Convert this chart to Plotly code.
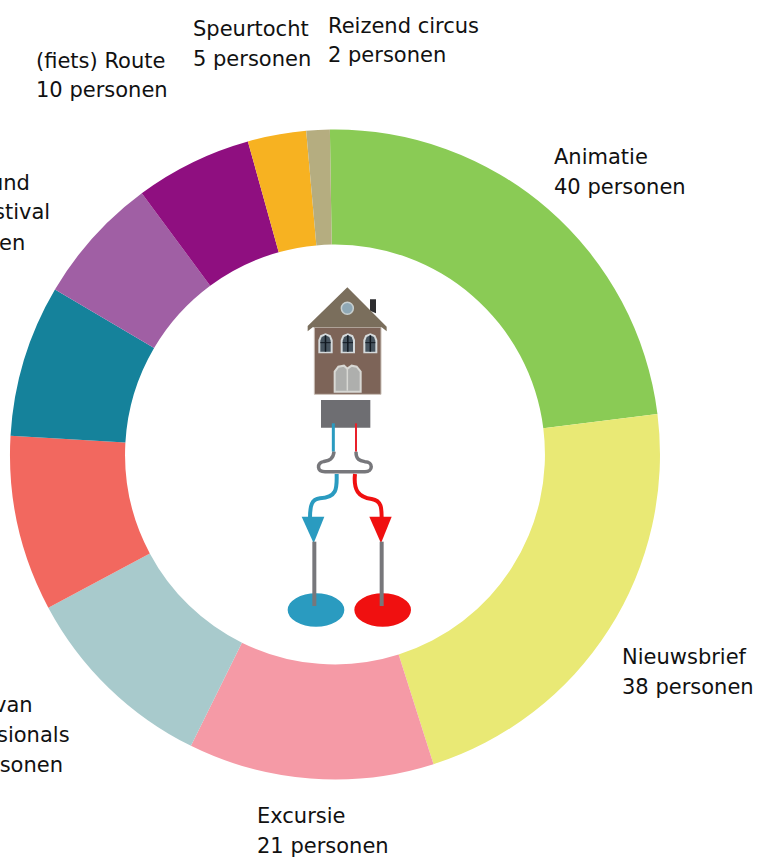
import plotly.graph_objects as go

W = 761
H = 857

# slices, clockwise from the top
activities = ['Animatie', 'Nieuwsbrief', 'Excursie', 'Van professionals', 'Rood', 'Blauw',
              'Festival', '(fiets) Route', 'Speurtocht', 'Reizend circus']
persons = [40, 38, 21, 17, 15, 13, 11, 10, 5, 2]
slice_colors = ['#8ACB55', '#E9E975', '#F59AA6', '#A8CACC', '#F2685F', '#15829B',
                '#A05FA4', '#8F0F80', '#F7B221', '#B5AD80']

label_lines = ['Speurtocht', '5 personen', 'Reizend circus', '2 personen',
               '(fiets) Route', '10 personen', 'Animatie', '40 personen',
               'Nieuwsbrief', '38 personen', 'Excursie', '21 personen',
               'und', 'stival', 'en', 'van', 'sionals', 'rsonen']
label_pos = [(192, 29), (192, 59), (327, 26), (327, 55),
             (35, 61), (35, 90), (553, 157), (553, 187),
             (621, 657), (621, 687), (256, 816), (256, 846),
             (-11, 183), (-7, 212), (-2, 243), (-7, 705), (-4, 735), (-10, 765)]


def px(x, y):
    return x / W, 1 - y / H


def zm(x, y):
    return px(270 + x / 3, 270 + y / 3)


def path(points, close=False):
    s = ''
    for i, p in enumerate(points):
        x, y = zm(*p)
        s += ('M' if i == 0 else 'L') + '%.5f,%.5f ' % (x, y)
    return s + ('Z' if close else '')


def curve(points):
    # M start, then cubic segments of three points each
    x, y = zm(*points[0])
    s = 'M%.5f,%.5f ' % (x, y)
    for i in range(1, len(points), 3):
        s += 'C' + ' '.join('%.5f,%.5f' % zm(*p) for p in points[i:i + 3]) + ' '
    return s


def poly(points, fill, line=None, width=0):
    return dict(type='path', xref='paper', yref='paper', path=path(points, True),
                fillcolor=fill, line=dict(color=line or fill, width=width))


def wire(points, color, width):
    return dict(type='path', xref='paper', yref='paper', path=curve(points),
                line=dict(color=color, width=width))


def straight(points, color, width):
    return dict(type='path', xref='paper', yref='paper', path=path(points),
                line=dict(color=color, width=width))


def oval(cx, cy, rx, ry, fill, line=None, width=0):
    x0, y0 = zm(cx - rx, cy - ry)
    x1, y1 = zm(cx + rx, cy + ry)
    return dict(type='circle', xref='paper', yref='paper', x0=x0, y0=y0, x1=x1, y1=y1,
                fillcolor=fill, line=dict(color=line or fill, width=width))


def arch_window(x0, x1, y0, y1):
    mid = (x0 + x1) / 2
    frame = [(x0, y1), (x0, y0 + 20), (x0 + 6, y0 + 6), (mid, y0), (x1 - 6, y0 + 6), (x1, y0 + 20), (x1, y1)]
    glass = [(x0 + 6, y1 - 5), (x0 + 6, y0 + 22), (x0 + 10, y0 + 11), (mid, y0 + 6),
             (x1 - 10, y0 + 11), (x1 - 6, y0 + 22), (x1 - 6, y1 - 5)]
    return [
        poly(frame, '#D5DADC'),
        poly(glass, '#46535E'),
        straight([(mid, y0 + 6), (mid, y1 - 5)], '#111820', 1.5),
        straight([(x0 + 6, y0 + 28), (x1 - 6, y0 + 28)], '#111820', 1),
    ]


shapes = [
    poly([(300, 88), (318, 88), (318, 130), (300, 122)], '#2E2E30'),
    poly([(133, 172), (333, 172), (333, 373), (133, 373)], '#7D6458', '#C9BFB6', 1),
    poly([(232, 52), (350, 170), (350, 184), (335, 172), (128, 172), (113, 184), (113, 168)], '#7A6E5C'),
    oval(232, 115, 18, 18, '#8FA8B5', '#C8D0D0', 1.5),
]
for x0, x1 in [(145, 188), (212, 255), (280, 322)]:
    shapes += arch_window(x0, x1, 190, 250)
shapes += [
    poly([(194, 365), (194, 305), (205, 290), (222, 287), (232, 296), (245, 287), (260, 290), (272, 305), (272, 365)],
         '#AEAFAD', '#D8D8D4', 2),
    straight([(232, 296), (232, 362)], '#D8D8D4', 1.5),
    poly([(153, 390), (301, 390), (301, 473), (153, 473)], '#6E6E72'),
    straight([(190, 460), (190, 545)], '#2A9BC0', 3),
    straight([(258, 460), (258, 545)], '#E8202A', 2),
    wire([(192, 545), (190, 572), (170, 572), (160, 575),
          (140, 580), (140, 605), (165, 605),
          (210, 605), (250, 605), (285, 605),
          (310, 605), (310, 575), (285, 575),
          (270, 572), (258, 570), (258, 545)], '#77777B', 3.5),
    wire([(200, 612), (200, 650), (205, 682), (150, 685),
          (125, 688), (120, 705), (120, 745)], '#2A9BC0', 4),
    wire([(255, 612), (250, 660), (265, 682), (305, 687),
          (335, 692), (335, 715), (335, 745)], '#F01010', 4),
    oval(138, 1020, 85, 50, '#2A9BC0'),
    oval(338, 1020, 85, 50, '#F01010'),
    poly([(95, 740), (163, 740), (131, 820)], '#2A9BC0'),
    poly([(298, 740), (365, 740), (333, 820)], '#F01010'),
    straight([(133, 815), (133, 1008)], '#77777B', 4),
    straight([(335, 815), (335, 1008)], '#77777B', 4),
]

annotations = []
for text, (x, y) in zip(label_lines, label_pos):
    ax, ay = px(x, y)
    annotations.append(dict(text=text, x=ax, y=ay, xref='paper', yref='paper',
                            xanchor='left', yanchor='middle', showarrow=False,
                            borderpad=0, font=dict(size=21, color='#111111')))

donut = go.Pie(labels=activities, values=persons, sort=False, direction='clockwise',
               rotation=-0.9, hole=0.646, textinfo='none', showlegend=False,
               marker=dict(colors=slice_colors, line=dict(width=0)),
               domain=dict(x=[10 / W, 660 / W], y=[1 - 781 / H, 1 - 128 / H]))

fig = go.Figure(data=[donut])
fig.update_layout(width=W, height=H, margin=dict(l=0, r=0, t=0, b=0),
                  paper_bgcolor='white', plot_bgcolor='white',
                  font=dict(family='DejaVu Sans'), shapes=shapes, annotations=annotations)
# the page's default body margin would push the figure 8px in
fig.write_html("out.html", config=dict(displayModeBar=False),
               post_script="document.body.style.margin='0';")
